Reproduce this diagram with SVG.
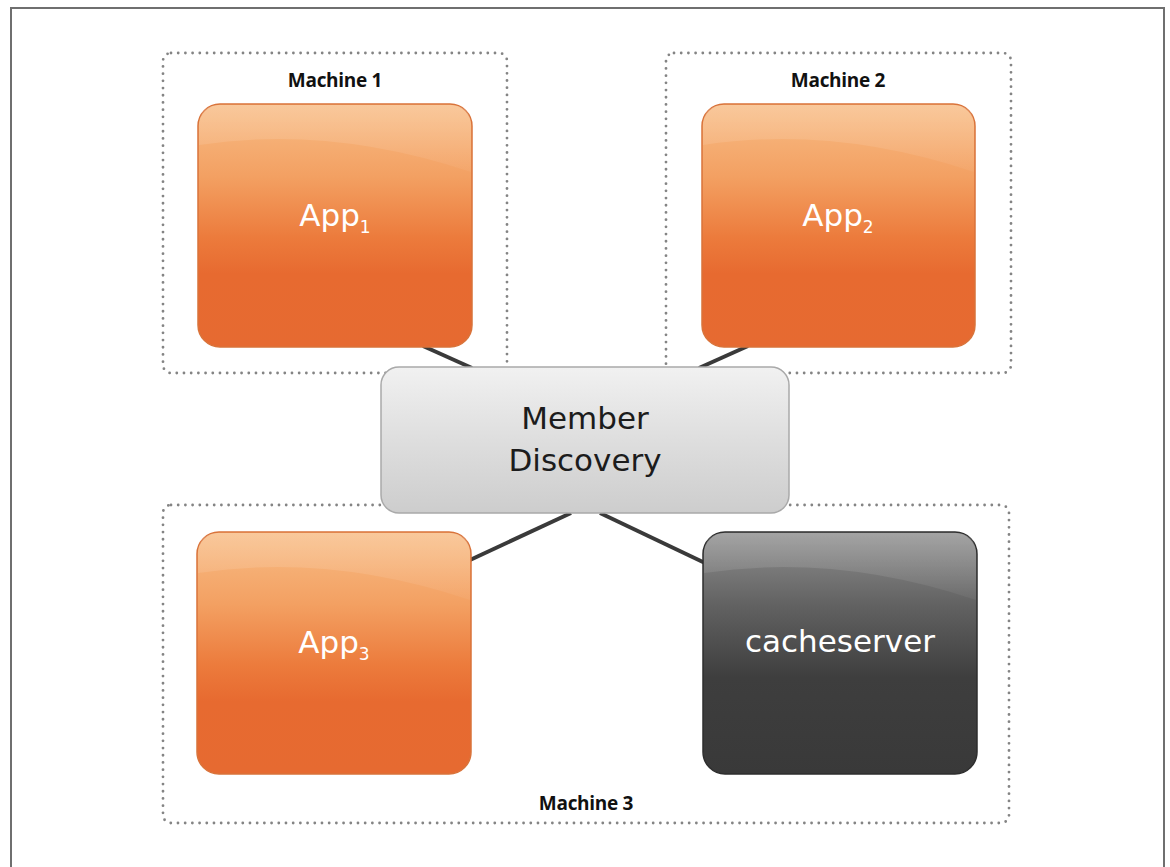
<svg xmlns="http://www.w3.org/2000/svg" width="1170" height="867" viewBox="0 0 1170 867">
  <defs>
    <linearGradient id="gOrange" x1="0" y1="0" x2="0" y2="1">
      <stop offset="0" stop-color="#f8bd86"/>
      <stop offset="0.3" stop-color="#f3a062"/>
      <stop offset="0.55" stop-color="#ec7b3c"/>
      <stop offset="0.7" stop-color="#e76a30"/>
      <stop offset="1" stop-color="#e66a31"/>
    </linearGradient>
    <linearGradient id="gGray" x1="0" y1="0" x2="0" y2="1">
      <stop offset="0" stop-color="#f1f1f1"/>
      <stop offset="0.5" stop-color="#dedede"/>
      <stop offset="1" stop-color="#cdcdcd"/>
    </linearGradient>
    <linearGradient id="gDark" x1="0" y1="0" x2="0" y2="1">
      <stop offset="0" stop-color="#909090"/>
      <stop offset="0.3" stop-color="#626262"/>
      <stop offset="0.6" stop-color="#3e3e3e"/>
      <stop offset="1" stop-color="#393939"/>
    </linearGradient>
    <linearGradient id="gShine" x1="0" y1="0" x2="0" y2="1">
      <stop offset="0" stop-color="#ffffff" stop-opacity="0.18"/>
      <stop offset="1" stop-color="#ffffff" stop-opacity="0.04"/>
    </linearGradient>
  </defs>
  <style>
    .frame { fill: none; stroke: #6f6f6f; stroke-width: 2; }
    .machine { fill: none; stroke: #848484; stroke-width: 2.8; stroke-dasharray: 0 7.2; stroke-linecap: round; }
    .app { fill: url(#gOrange); stroke: #d9733a; stroke-width: 1.5; }
    .cache { fill: url(#gDark); stroke: #2e2e2e; stroke-width: 1.5; }
    .disc { fill: url(#gGray); stroke: #a9a9a9; stroke-width: 1.5; }
    .shine { fill: url(#gShine); }
    .link { stroke: #3a3a3a; stroke-width: 4; fill: none; }
    .mlabel { font-family: "Open Sans", "Liberation Sans", sans-serif; font-weight: 700; font-size: 19px; fill: #111; text-anchor: middle; letter-spacing: -0.3px; }
    .big { font-family: "DejaVu Sans", "Liberation Sans", sans-serif; font-size: 31px; text-anchor: middle; }
    .light { fill: #ffffff; }
    .dark { fill: #1c1c1c; }
  </style>

  <!-- page frame (open at the bottom) -->
  <path class="frame" d="M11 867 V8 H1164 V867"/>

  <!-- machine enclosures -->
  <g id="machine1">
    <rect class="machine" x="163" y="53" width="344" height="320" rx="8"/>
    <text class="mlabel" x="335" y="87">Machine 1</text>
  </g>
  <g id="machine2">
    <rect class="machine" x="666" y="53" width="345" height="320" rx="8"/>
    <text class="mlabel" x="838" y="87">Machine 2</text>
  </g>
  <g id="machine3">
    <rect class="machine" x="163" y="505" width="846" height="318" rx="8"/>
    <text class="mlabel" x="586" y="810">Machine 3</text>
  </g>

  <!-- connectors -->
  <g id="connectors">
    <line class="link" x1="423" y1="346" x2="472" y2="368"/>
    <line class="link" x1="748" y1="346" x2="699" y2="368"/>
    <line class="link" x1="571" y1="513" x2="470" y2="560"/>
    <line class="link" x1="600" y1="513" x2="705" y2="563"/>
  </g>

  <!-- nodes -->
  <g id="app1">
    <rect class="app" x="198" y="104" width="274" height="243" rx="22"/>
    <path class="shine" d="M199 126 Q199 105 220 105 H450 Q471 105 471 126 V172 Q330 125 199 145 Z"/>
    <text class="big light" x="335" y="226">App<tspan font-size="17" dy="7">1</tspan></text>
  </g>
  <g id="app2">
    <rect class="app" x="702" y="104" width="273" height="243" rx="22"/>
    <path class="shine" d="M703 126 Q703 105 724 105 H953 Q974 105 974 126 V172 Q834 125 703 145 Z"/>
    <text class="big light" x="838" y="226">App<tspan font-size="17" dy="7">2</tspan></text>
  </g>
  <g id="app3">
    <rect class="app" x="197" y="532" width="274" height="242" rx="22"/>
    <path class="shine" d="M198 554 Q198 533 219 533 H449 Q470 533 470 554 V600 Q330 553 198 573 Z"/>
    <text class="big light" x="334" y="653">App<tspan font-size="17" dy="7">3</tspan></text>
  </g>
  <g id="cacheserver">
    <rect class="cache" x="703" y="532" width="274" height="242" rx="22"/>
    <path class="shine" d="M704 554 Q704 533 725 533 H955 Q976 533 976 554 V600 Q836 553 704 573 Z"/>
    <text class="big light" x="840" y="652">cacheserver</text>
  </g>
  <g id="member-discovery">
    <rect class="disc" x="381" y="367" width="408" height="146" rx="18"/>
    <text class="big dark" x="585" y="429">Member</text>
    <text class="big dark" x="585" y="471">Discovery</text>
  </g>
</svg>
